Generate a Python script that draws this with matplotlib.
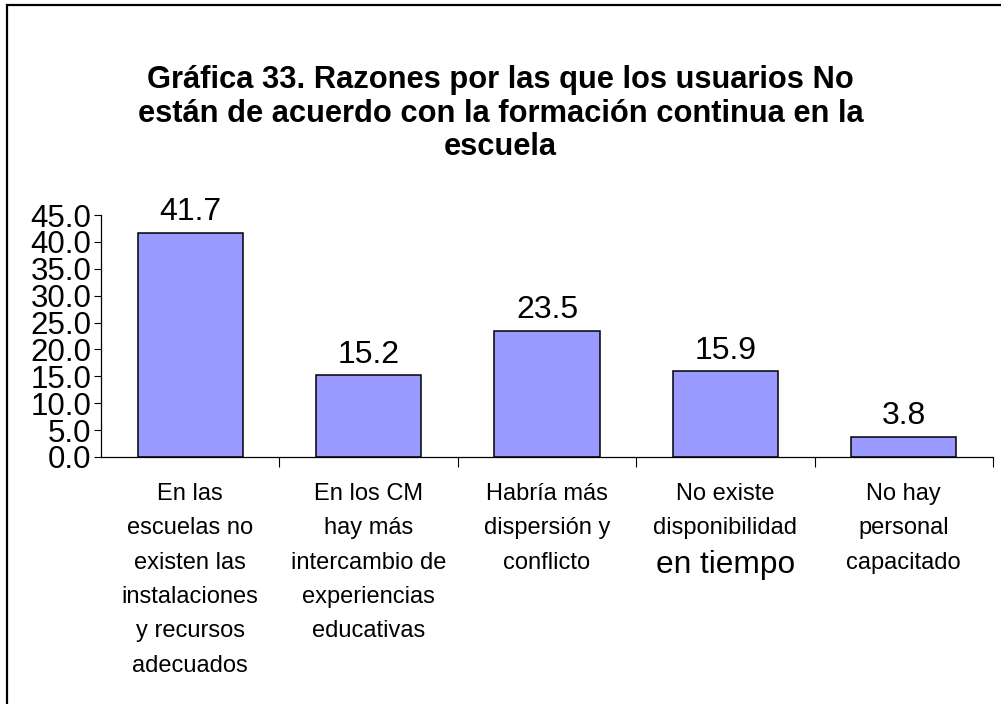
import matplotlib
matplotlib.use("Agg")
import matplotlib.pyplot as plt
from matplotlib.patches import Rectangle

plt.rcParams["font.family"] = ["Liberation Sans", "DejaVu Sans"]

TITLE = ("Gráfica 33. Razones por las que los usuarios No\n"
         "están de acuerdo con la formación continua en la\n"
         "escuela")

categories = [
    "En las\nescuelas no\nexisten las\ninstalaciones\ny recursos\nadecuados",
    "En los CM\nhay más\nintercambio de\nexperiencias\neducativas",
    "Habría más\ndispersión y\nconflicto",
    "No existe\ndisponibilidad",
    "No hay\npersonal\ncapacitado",
]
# the fourth label ends with a line set in a larger size
extra_line = {3: "en tiempo"}
values = [41.7, 15.2, 23.5, 15.9, 3.8]
yticks = [0, 5, 10, 15, 20, 25, 30, 35, 40, 45]

BAR = "#9999FF"

fig = plt.figure(figsize=(10.01, 7.04), dpi=100)
ax = fig.add_axes([0.1009, 0.3509, 0.8911, 0.3437])

x = list(range(len(values)))
ax.bar(x, values, width=0.59, color=BAR, edgecolor="black", linewidth=1.1)

for xi, v in zip(x, values):
    ax.annotate(f"{v:.1f}", (xi, v), xytext=(0, 4), textcoords="offset points",
                ha="center", va="bottom", fontsize=23)

ax.set_xlim(-0.5, len(values) - 0.5)
ax.set_ylim(0, 45)
ax.set_yticks(yticks)
ax.set_yticklabels([f"{t:.1f}" for t in yticks], fontsize=22.5)
ax.tick_params(axis="y", length=5, width=0.8, pad=2)

# category ticks sit on the boundaries between bars
ax.set_xticks([i + 0.5 for i in x])
ax.set_xticklabels([])
ax.tick_params(axis="x", length=7, width=0.8)

for sp in ("top", "right"):
    ax.spines[sp].set_visible(False)
for sp in ("left", "bottom"):
    ax.spines[sp].set_linewidth(0.9)

trans = ax.get_xaxis_transform()
for xi, lab in zip(x, categories):
    ax.text(xi, -0.107, lab, transform=trans, ha="center", va="top",
            fontsize=17, linespacing=1.73)
    if xi in extra_line:
        ax.text(xi, -0.448, extra_line[xi], transform=trans, ha="center",
                va="center", fontsize=22.8)

fig.text(0.5, 0.907, TITLE, ha="center", va="top", fontsize=22.2,
         fontweight="bold", linespacing=1.14)

# outer frame (left and top edges visible)
fig.patches.append(Rectangle((7 / 1001, -0.1), 1.2, 0.1 + 1 - 5 / 704,
                             transform=fig.transFigure, fill=False,
                             edgecolor="black", linewidth=1.6))

fig.savefig("out.png", dpi=100)
